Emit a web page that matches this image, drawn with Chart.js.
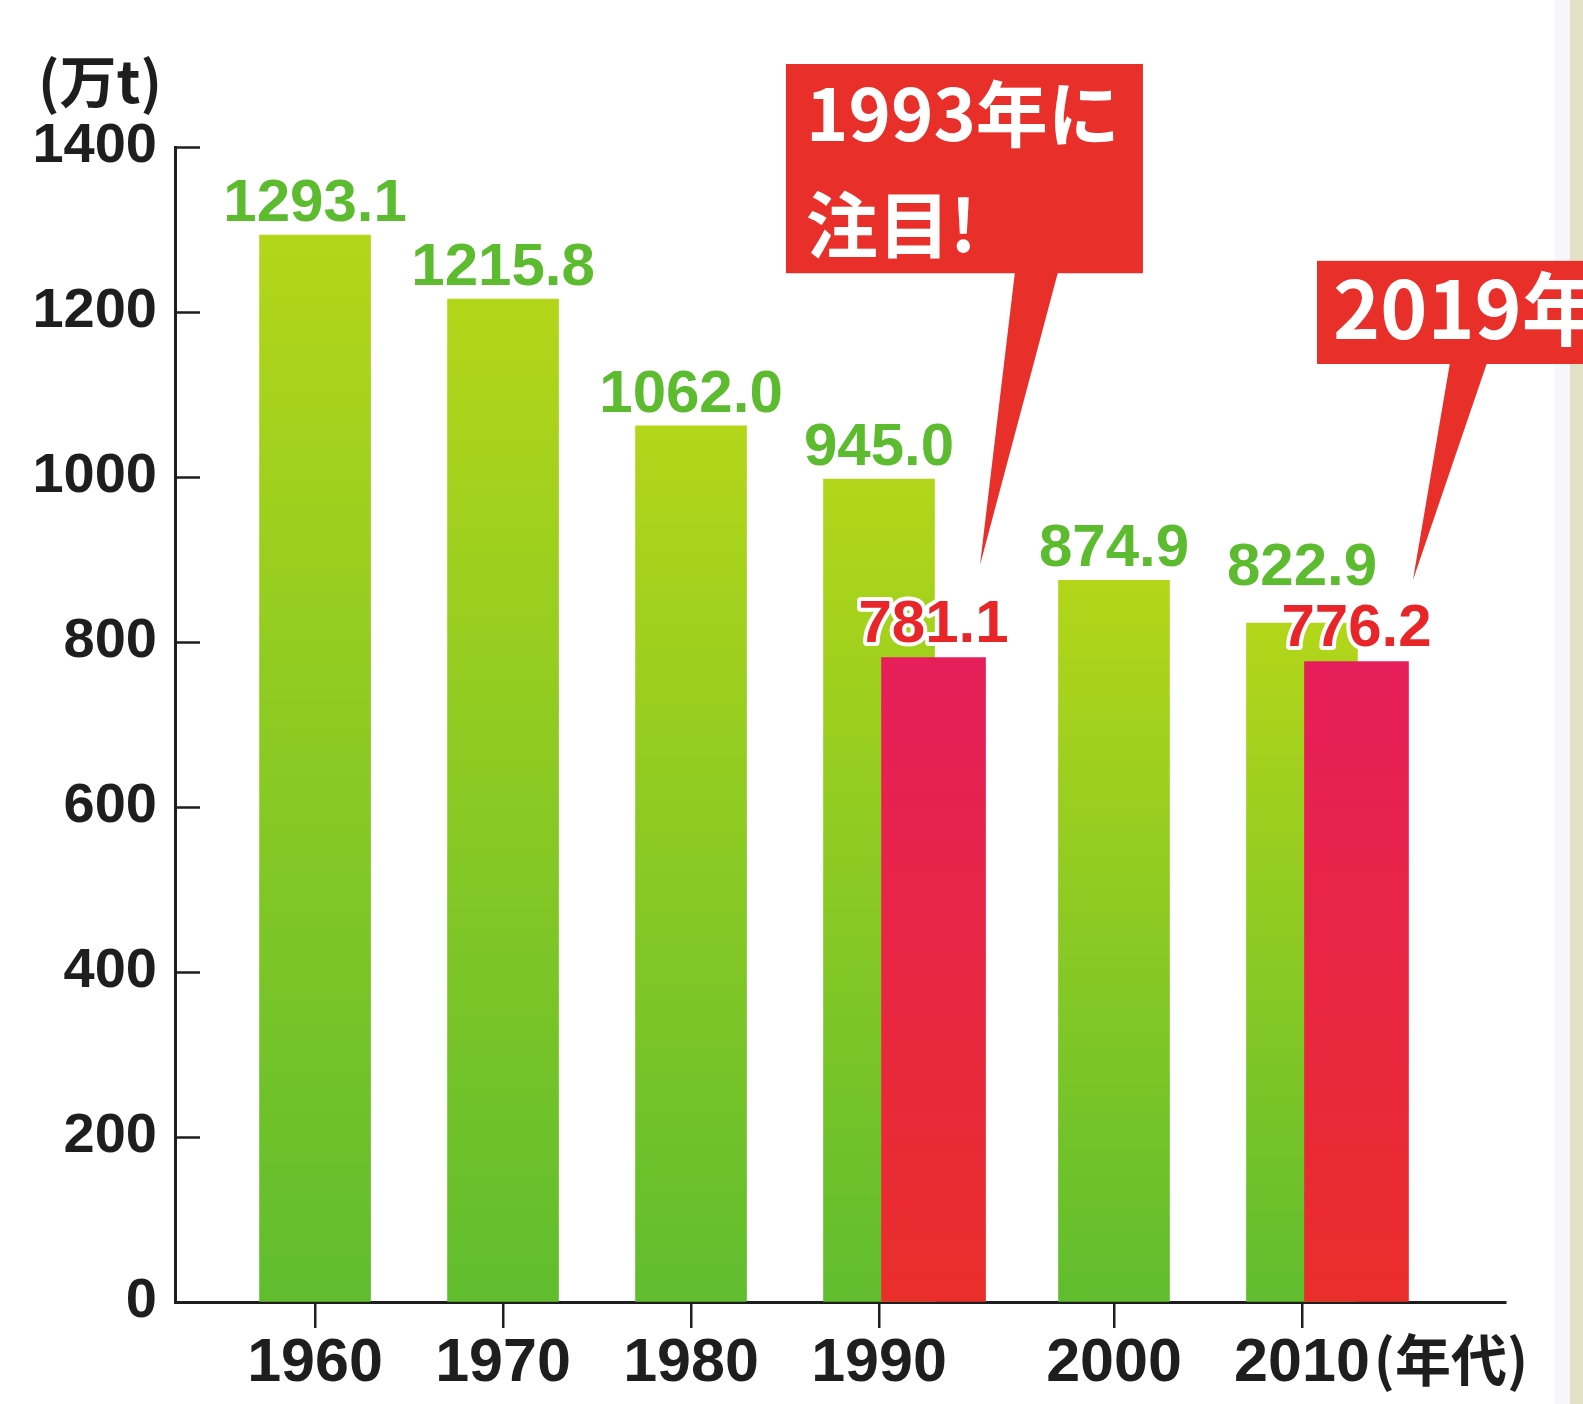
<!DOCTYPE html>
<html>
<head>
<meta charset="utf-8">
<script src="https://cdn.jsdelivr.net/npm/chart.js@4/dist/chart.umd.min.js"></script>
<style>
  html, body { margin: 0; padding: 0; background: #fff; }
  #chart { display: block; }
</style>
</head>
<body>
<canvas id="chart" width="1583" height="1404"></canvas>
<script>
// decade categories and the printed totals
const decades = ['1960', '1970', '1980', '1990', '2000', '2010'];
// bar heights as drawn in the picture (the 1990 bar is drawn near 1000 although it is labelled 945.0)
const totals = [1293.1, 1215.8, 1062.0, 997.5, 874.9, 822.9];
const totalLabels = ['1293.1', '1215.8', '1062.0', '945.0', '874.9', '822.9'];
// highlighted single years (red bars)
const highlightYears = ['1993', '2019'];
const highlightValues = [781.1, 776.2];
const yTicks = [0, 200, 400, 600, 800, 1000, 1200, 1400];
const calloutTexts = [['1993年に', '注目!'], ['2019年']];

// layout only: where each decade sits on the x axis, and the red bars next to it
const slotX = [0, 1, 2, 3, 4.25, 5.25];
const highlightSlot = [3.29, 5.54];

const INK = '#1e1e1e';
const LABEL_GREEN = '#5cbb2e';
const LABEL_RED = '#e8262a';
const CALLOUT_RED = '#e82f29';

function barGradient(top, bottom) {
    return (c) => {
        const chart = c.chart;
        if (!chart.chartArea || !c.raw) return bottom;
        const y = chart.scales.y;
        const g = chart.ctx.createLinearGradient(0, y.getPixelForValue(c.raw.y), 0, y.getPixelForValue(0));
        g.addColorStop(0, top);
        g.addColorStop(1, bottom);
        return g;
    };
}

const extras = {
    id: 'extras',
    beforeDraw(chart) {
        const ctx = chart.ctx;
        ctx.save();
        ctx.fillStyle = '#ffffff';
        ctx.fillRect(0, 0, chart.width, chart.height);
        // page edge on the right
        ctx.fillStyle = '#f6f7f9';
        ctx.fillRect(chart.width - 28, 0, 15, chart.height);
        ctx.fillStyle = '#e4dfc7';
        ctx.fillRect(chart.width - 13, 0, 13, chart.height);
        ctx.restore();
    },
    afterDatasetsDraw(chart) {
        const ctx = chart.ctx;
        const red = chart.getDatasetMeta(0).data;
        const green = chart.getDatasetMeta(1).data;
        ctx.save();
        ctx.font = 'bold 60px "Liberation Sans", Arial, sans-serif';
        ctx.textAlign = 'center';
        ctx.textBaseline = 'alphabetic';

        // red value labels with white halo
        const redTops = {};
        red.forEach((bar, i) => {
            const base = bar.y - 16;
            redTops[Math.floor(highlightSlot[i])] = base - 44;
            ctx.lineJoin = 'round';
            ctx.lineWidth = 8;
            ctx.strokeStyle = '#ffffff';
            ctx.strokeText(highlightValues[i].toFixed(1), bar.x, base);
            ctx.fillStyle = LABEL_RED;
            ctx.fillText(highlightValues[i].toFixed(1), bar.x, base);
        });

        // green value labels, lifted when a red label sits just below
        green.forEach((bar, i) => {
            let base = bar.y - 14;
            const rt = redTops[Math.floor(slotX[i])];
            if (rt !== undefined && base > rt - 17) base = rt - 17;
            ctx.fillStyle = LABEL_GREEN;
            ctx.fillText(totalLabels[i], bar.x, base);
        });
        ctx.restore();
    },
    afterDraw(chart) {
        const ctx = chart.ctx;
        const xs = chart.scales.x, ys = chart.scales.y;
        const area = chart.chartArea;
        ctx.save();

        // inward tick marks on the y axis
        ctx.strokeStyle = INK;
        ctx.lineWidth = 2.5;
        yTicks.forEach(v => {
            const y = Math.round(ys.getPixelForValue(v)) + 0.5;
            ctx.beginPath();
            ctx.moveTo(area.left, y);
            ctx.lineTo(area.left + 25, y);
            ctx.stroke();
        });

        // unit labels
        ctx.fillStyle = INK;
        ctx.font = 'bold 57px "Noto Sans CJK JP", sans-serif';
        ctx.textAlign = 'left';
        ctx.textBaseline = 'middle';
        ctx.fillText('(万t)', 38, area.top - 66);

        ctx.font = 'bold 61px "Liberation Sans", Arial, sans-serif';
        const lastX = xs.getPixelForValue(slotX[slotX.length - 1]);
        const lastW = ctx.measureText(decades[decades.length - 1]).width;
        ctx.font = 'bold 56px "Noto Sans CJK JP", sans-serif';
        ctx.fillText('(年代)', lastX + lastW / 2 + 4, area.bottom + 58);

        // callouts, placed in axis units
        const callouts = [
            { x0: 2.505, x1: 4.404, top: 1500.6, bottom: 1247, b0: 3.723, b1: 3.952, tx: 3.537, ty: 893, size: 72, lines: calloutTexts[0], pad: 20, base: 77, lead: 111 },
            { x0: 5.33, x1: null, top: 1262, bottom: 1137, b0: 6.037, b1: 6.234, tx: 5.84, ty: 875, size: 80, lines: calloutTexts[1], pad: 16, base: 78, lead: 0 }
        ];
        callouts.forEach(c => {
            const l = xs.getPixelForValue(c.x0);
            const r = c.x1 === null ? chart.width : xs.getPixelForValue(c.x1);
            const t = ys.getPixelForValue(c.top), b = ys.getPixelForValue(c.bottom);
            ctx.fillStyle = CALLOUT_RED;
            ctx.fillRect(l, t, r - l, b - t);
            ctx.beginPath();
            ctx.moveTo(xs.getPixelForValue(c.b0), b - 1);
            ctx.lineTo(xs.getPixelForValue(c.b1), b - 1);
            ctx.lineTo(xs.getPixelForValue(c.tx), ys.getPixelForValue(c.ty));
            ctx.closePath();
            ctx.fill();
            ctx.fillStyle = '#ffffff';
            ctx.font = 'bold ' + c.size + 'px "Noto Sans CJK JP", sans-serif';
            ctx.textAlign = 'left';
            ctx.textBaseline = 'alphabetic';
            c.lines.forEach((line, k) => {
                ctx.fillText(line, l + c.pad, t + c.base + k * c.lead);
            });
        });
        ctx.restore();
    }
};

new Chart(document.getElementById('chart').getContext('2d'), {
    type: 'bar',
    data: {
        datasets: [
            {
                label: highlightYears.join(' / '),
                data: highlightValues.map((v, i) => ({ x: highlightSlot[i], y: v })),
                backgroundColor: barGradient('#e61e5a', '#ea2e2a'),
                barThickness: 104,
                grouped: false
            },
            {
                label: '年代',
                data: totals.map((v, i) => ({ x: slotX[i], y: v })),
                backgroundColor: barGradient('#b3d619', '#60bd2e'),
                barThickness: 111,
                grouped: false
            }
        ]
    },
    options: {
        responsive: false,
        devicePixelRatio: 1,
        animation: false,
        layout: { padding: { top: 147, right: 78, left: 0, bottom: 0 } },
        scales: {
            x: {
                type: 'linear',
                offset: false,
                min: -0.745,
                max: 6.33,
                afterBuildTicks: (s) => { s.ticks = slotX.map(v => ({ value: v })); },
                afterFit: (s) => { s.height = 102; },
                grid: { offset: false, drawOnChartArea: false, drawTicks: true, tickLength: 26, color: INK, lineWidth: 2.5 },
                border: { color: INK, width: 3 },
                ticks: {
                    autoSkip: false,
                    maxRotation: 0,
                    padding: 0,
                    color: INK,
                    font: { family: '"Liberation Sans", Arial, sans-serif', size: 61, weight: 'bold' },
                    callback: (v, i) => decades[i]
                }
            },
            y: {
                min: 0,
                max: 1400,
                afterBuildTicks: (s) => { s.ticks = yTicks.map(v => ({ value: v })); },
                afterFit: (s) => { s.width = 175; },
                grid: { drawOnChartArea: false, drawTicks: false },
                border: { color: INK, width: 3 },
                ticks: {
                    padding: 18,
                    color: INK,
                    font: { family: '"Liberation Sans", Arial, sans-serif', size: 56, weight: 'bold' },
                    callback: (v) => String(v)
                }
            }
        },
        plugins: {
            legend: { display: false },
            tooltip: { enabled: false }
        }
    },
    plugins: [extras]
});
</script>
</body>
</html>
